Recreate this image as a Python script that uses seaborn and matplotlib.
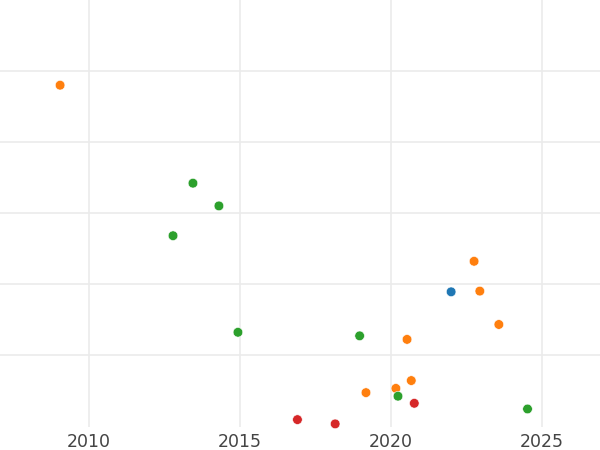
import matplotlib
matplotlib.use("Agg")
import matplotlib.pyplot as plt
import seaborn as sns
import pandas as pd

# Data (x = year, y = value in grid units)
years = [2009.04, 2013.44, 2014.30, 2012.78, 2014.93, 2016.90, 2018.15, 2018.96,
         2019.17, 2020.16, 2020.23, 2020.67, 2020.77, 2020.53, 2021.99, 2022.75,
         2022.94, 2023.57, 2024.52]
values = [4.80, 3.42, 3.10, 2.68, 1.32, 0.09, 0.03, 1.27,
          0.47, 0.53, 0.42, 0.64, 0.32, 1.22, 1.89, 2.32,
          1.90, 1.43, 0.24]
groups = ["B", "C", "C", "C", "C", "D", "D", "C",
          "B", "B", "C", "B", "D", "B", "A", "B",
          "B", "B", "C"]
group_order = ["A", "B", "C", "D"]
x_ticks = [2010, 2015, 2020, 2025]
y_grid = [1, 2, 3, 4, 5]

df = pd.DataFrame({"year": years, "value": values, "group": groups})

sns.set_theme(style="whitegrid")
plt.rcParams['font.family'] = ['DejaVu Sans']

fig = plt.figure(figsize=(6, 4.5), dpi=100)
ax = fig.add_axes([0, 0.0511, 1, 0.9489])

sns.scatterplot(data=df, x="year", y="value", hue="group", hue_order=group_order,
                palette="tab10", s=48, edgecolor="white", linewidth=0.4,
                legend=False, ax=ax, zorder=3, clip_on=False)

ax.set_xlim(2007.05, 2026.92)
ax.set_ylim(-0.014, 6)
ax.set_xticks(x_ticks)
ax.set_xticklabels([str(t) for t in x_ticks])
ax.set_yticks(y_grid)
ax.set_yticklabels([])
ax.tick_params(axis="both", length=0)
ax.tick_params(axis="x", labelsize=12.5, labelcolor="#444444", pad=4)
ax.set_xlabel("")
ax.set_ylabel("")
ax.grid(True, color="#ebebeb", linewidth=1.2)
for s in ax.spines.values():
    s.set_visible(False)
ax.set_facecolor("white")
fig.patch.set_facecolor("white")

fig.savefig("out.png", dpi=100)
